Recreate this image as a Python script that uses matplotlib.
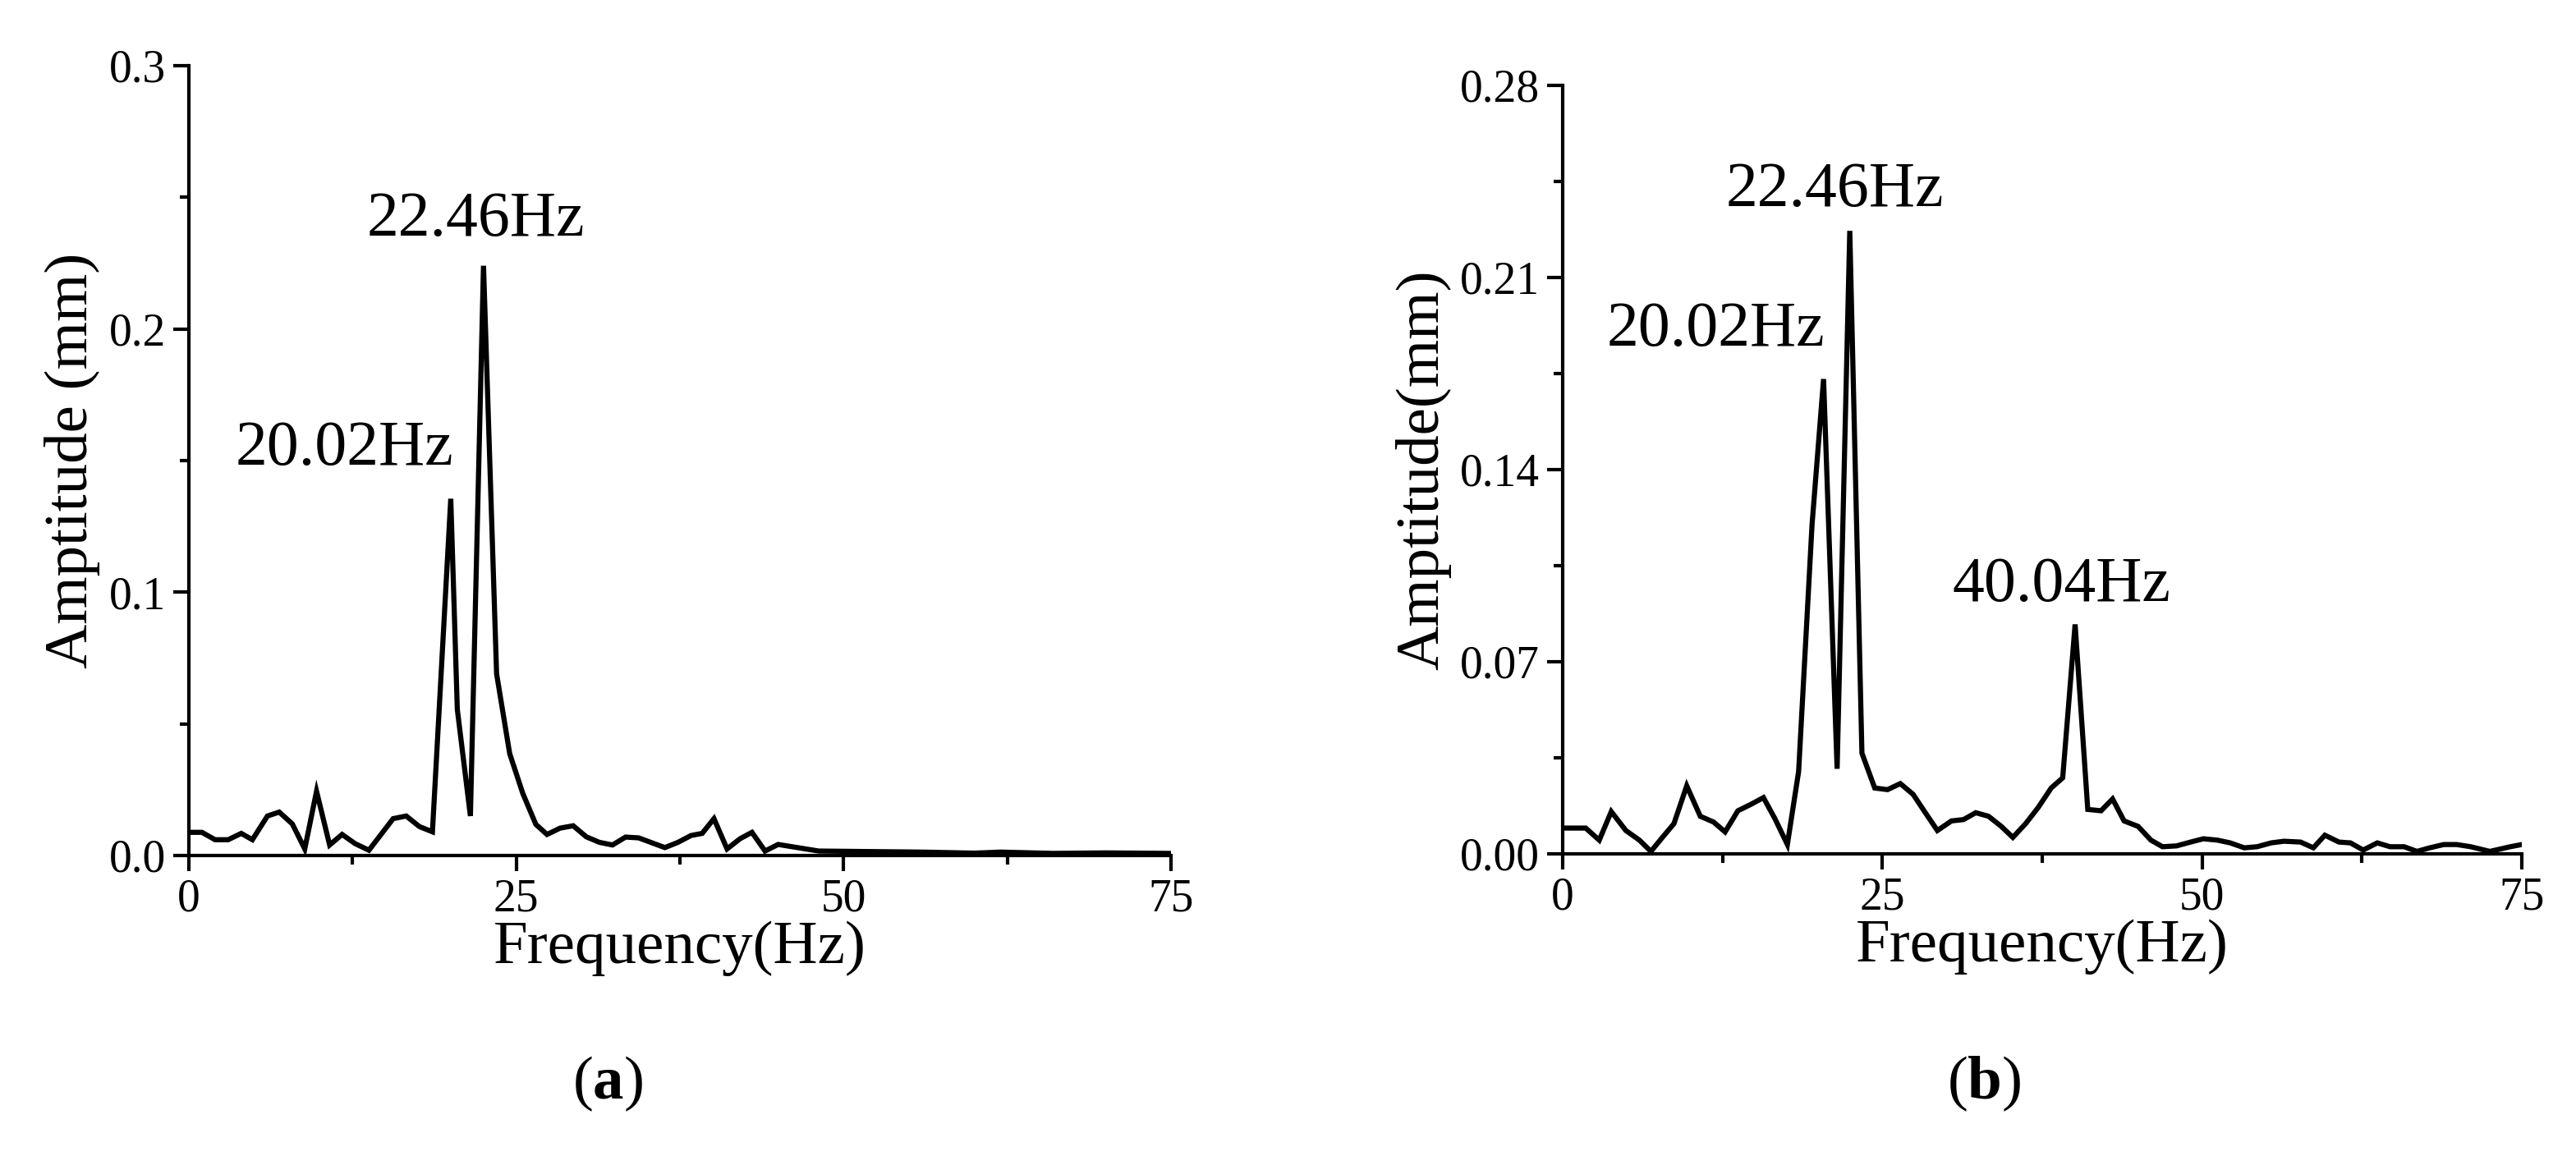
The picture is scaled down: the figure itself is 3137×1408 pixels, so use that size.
import matplotlib.pyplot as plt
from matplotlib.ticker import MultipleLocator, FormatStrFormatter

plt.rcParams["font.family"] = ["Liberation Serif", "DejaVu Serif"]
plt.rcParams["mathtext.fontset"] = "custom"
plt.rcParams["mathtext.rm"] = "Liberation Serif"
plt.rcParams["mathtext.bf"] = "Liberation Serif:bold"

# panel (a) spectrum
freq_a = [0, 1, 2, 3, 4, 4.85, 6, 6.9, 7.9, 8.85, 9.75, 10.75, 11.7, 12.7, 13.75, 15.6, 16.6,
          17.6, 18.6, 20.0, 20.5, 21.5, 22.5, 23.5, 24.5, 25.5, 26.5, 27.35, 28.35, 29.35,
          30.35, 31.35, 32.35, 33.35, 34.35, 36.35, 37.35, 38.35, 39.2, 40.1, 41.1, 42.1,
          43, 44, 45, 47.1, 48.1, 52, 56, 60, 62, 66, 70, 75]
amp_a = [0.0088, 0.0088, 0.006, 0.006, 0.0084, 0.006, 0.015, 0.0165, 0.012, 0.0025, 0.0244,
         0.004, 0.008, 0.0045, 0.002, 0.014, 0.015, 0.011, 0.009, 0.1355, 0.0555, 0.015,
         0.224, 0.069, 0.0387, 0.0236, 0.0118, 0.008, 0.0104, 0.0113, 0.0071, 0.005, 0.004,
         0.007, 0.0067, 0.003, 0.005, 0.0076, 0.0084, 0.014, 0.0025, 0.0064, 0.0088, 0.0017,
         0.0042, 0.0025, 0.0017, 0.0015, 0.0013, 0.0009, 0.0013, 0.0008, 0.001, 0.0008]

# panel (b) spectrum
freq_b = [0, 1.8, 2.86, 3.8, 4.94, 6, 6.9, 7.8, 8.7, 9.7, 10.76, 11.8, 12.7, 13.7, 14.7,
          15.7, 16.6, 17.57, 18.45, 19.5, 20.4, 21.46, 22.45, 23.4, 24.4, 25.4, 26.4, 27.4,
          28.3, 29.3, 30.4, 31.35, 32.3, 33.3, 34.3, 35.2, 36.2, 37.2, 38.2, 39.1, 40.07,
          41.06, 42.1, 43, 43.9, 45, 46, 46.9, 48, 49.1, 50.1, 51.2, 52.2, 53.3, 54.3, 55.4,
          56.4, 57.7, 58.7, 59.6, 60.7, 61.6, 62.6, 63.7, 64.7, 65.8, 66.8, 67.8, 68.9,
          69.9, 71, 72.5, 74.1, 75]
amp_b = [0.0094, 0.0094, 0.005, 0.0154, 0.0085, 0.005, 0.0009, 0.006, 0.011, 0.0248, 0.0137,
         0.0116, 0.008, 0.0157, 0.018, 0.0205, 0.0128, 0.0034, 0.03, 0.12, 0.173, 0.031,
         0.227, 0.0367, 0.024, 0.0234, 0.0256, 0.0217, 0.0154, 0.0085, 0.012, 0.0125, 0.015,
         0.0137, 0.010, 0.006, 0.011, 0.017, 0.024, 0.0277, 0.0836, 0.0162, 0.0157, 0.020,
         0.012, 0.010, 0.005, 0.0026, 0.0029, 0.0043, 0.0055, 0.005, 0.004, 0.0022, 0.0026,
         0.004, 0.0046, 0.0043, 0.0022, 0.0068, 0.0043, 0.004, 0.0014, 0.004, 0.0026,
         0.0026, 0.0009, 0.0022, 0.0034, 0.0034, 0.0026, 0.0009, 0.0026, 0.0034]

peaks_a = [("22.46Hz", 21.9, 0.230), ("20.02Hz", 11.9, 0.143)]
peaks_b = [("22.46Hz", 21.3, 0.231), ("20.02Hz", 12.0, 0.180), ("40.04Hz", 39.0, 0.087)]

fig = plt.figure(figsize=(31.37, 14.08), dpi=100)
W, H = 3137, 1408
ax_a = fig.add_axes([230 / W, 1 - 1042 / H, 1196 / W, 962 / H])
ax_b = fig.add_axes([1903 / W, 1 - 1040 / H, 1168 / W, 936 / H])

panels = [
    (ax_a, freq_a, amp_a, peaks_a, 0.3, 0.1, 0.05, "%.1f", "Amptitude (mm)", "a", 740),
    (ax_b, freq_b, amp_b, peaks_b, 0.28, 0.07, 0.035, "%.2f", "Amptitude(mm)", "b", 2416),
]

for ax, f, a, peaks, ymax, major, minor, fmt, ylab, tag, tag_x in panels:
    ax.plot(f, a, color="black", lw=4.5, solid_joinstyle="miter")
    ax.set_xlim(0, 75)
    ax.set_ylim(0, ymax)
    ax.xaxis.set_major_locator(MultipleLocator(25))
    ax.xaxis.set_minor_locator(MultipleLocator(12.5))
    ax.yaxis.set_major_locator(MultipleLocator(major))
    ax.yaxis.set_minor_locator(MultipleLocator(minor))
    ax.yaxis.set_major_formatter(FormatStrFormatter(fmt))
    for s in ("top", "right"):
        ax.spines[s].set_visible(False)
    for s in ("left", "bottom"):
        ax.spines[s].set_linewidth(3)
    ax.tick_params(which="major", direction="out", length=14, width=3, labelsize=40, pad=6)
    ax.tick_params(which="minor", direction="out", length=8, width=3)
    ax.set_xlabel("Frequency(Hz)", fontsize=54, labelpad=0)
    ax.set_ylabel(ylab, fontsize=54, labelpad=8)
    for text, x, y in peaks:
        ax.text(x, y, text, fontsize=56, ha="center", va="bottom")
    fig.text(tag_x / W, 1 - 1320 / H, r"($\mathbf{" + tag + r"}$)", fontsize=54,
             ha="center", va="center")

fig.savefig("out.png", dpi=100)
